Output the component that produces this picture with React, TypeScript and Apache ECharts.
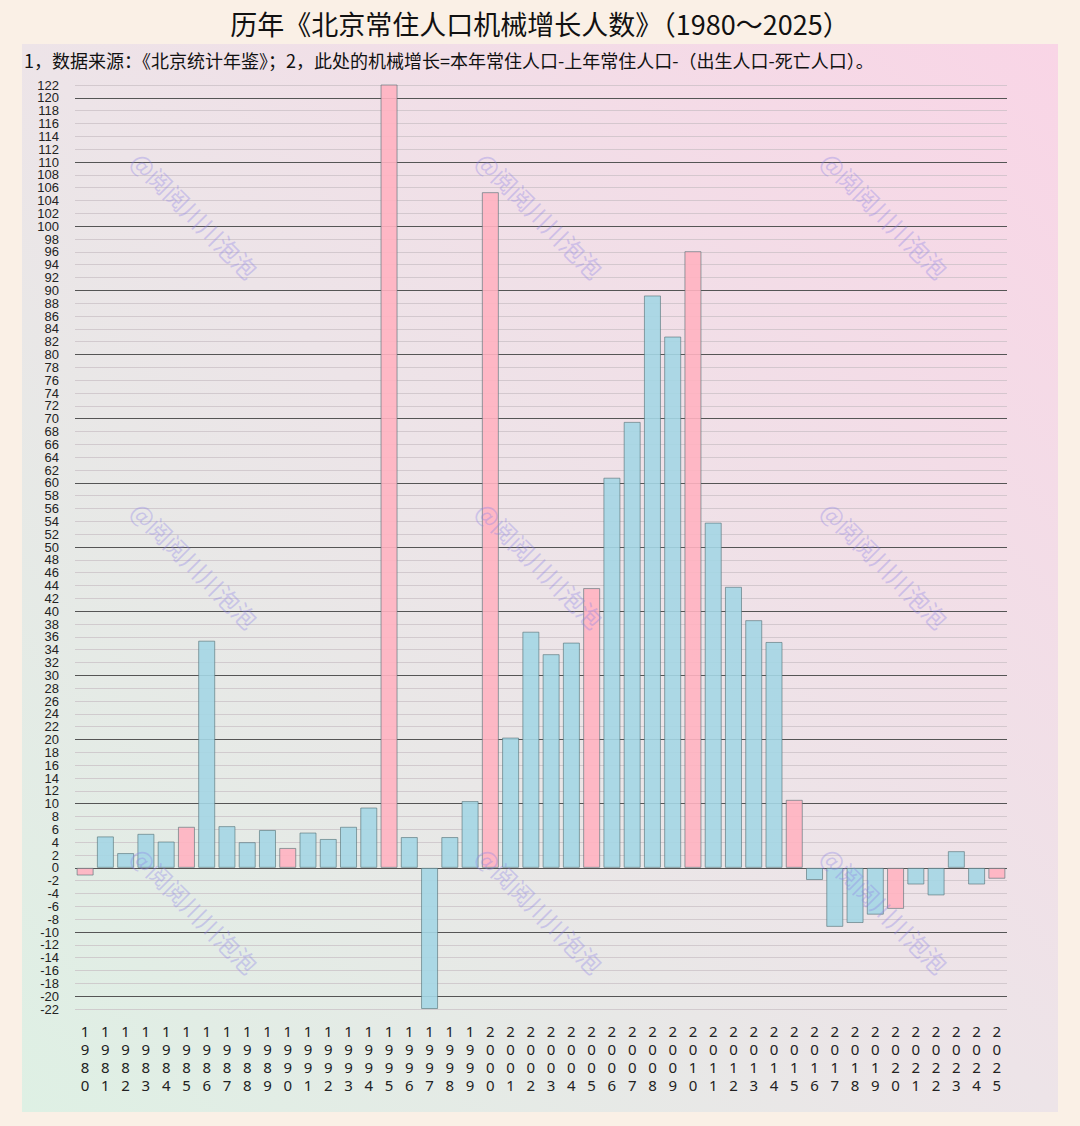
import React, { useEffect, useRef } from "react";
import * as echarts from "echarts";

const years: string[] = [];
for (let y = 1980; y <= 2025; y++) years.push(String(y));

const values: number[] = [
  -1.2, 4.9, 2.3, 5.3, 4.1, 6.4, 35.4, 6.5, 4.0, 5.9,
  3.1, 5.5, 4.5, 6.4, 9.4, 122.6, 4.8, -22.0, 4.8, 10.4,
  105.3, 20.3, 36.8, 33.3, 35.1, 43.6, 60.8, 69.5, 89.2, 82.8,
  96.1, 53.8, 43.8, 38.6, 35.2, 10.6, -1.9, -9.2, -8.6, -7.3,
  -6.4, -2.6, -4.3, 2.6, -2.6, -1.7,
];

const highlightYears: string[] = ["1980", "1985", "1990", "1995", "2000", "2005", "2010", "2015", "2020", "2025"];

const titleText = "历年《北京常住人口机械增长人数》（1980～2025）";
const noteText = "1，数据来源：《北京统计年鉴》；2，此处的机械增长=本年常住人口-上年常住人口-（出生人口-死亡人口）。";
const watermarkText = "@阅阅川川泡泡";

export default function App() {
  const ref = useRef<HTMLDivElement>(null);
  useEffect(() => {
    if (!ref.current) return;
    const chart = echarts.init(ref.current, null, { renderer: "svg" });
    const wmPos: [number, number][] = [];
    [195, 540, 885].forEach((x) => [215, 565, 910].forEach((y) => wmPos.push([x, y])));
    const cjk = "'Noto Sans CJK SC', 'Noto Sans', sans-serif";
    chart.setOption({
      animation: false,
      backgroundColor: "#faf0e6",
      graphic: [
        {
          type: "rect",
          z: -10,
          shape: { x: 22, y: 44, width: 1036, height: 1068 },
          style: {
            fill: new echarts.graphic.LinearGradient(1, 0, 0, 1, [
              { offset: 0, color: "#f9d5e6" },
              { offset: 0.5, color: "#ede4e8" },
              { offset: 1, color: "#def0e4" },
            ]),
          },
        },
        {
          type: "text",
          z: 10,
          left: "center",
          top: 10,
          style: { text: titleText, font: `27px ${cjk}`, fill: "#111" },
        },
        {
          type: "text",
          z: 10,
          left: 24,
          top: 51,
          style: { text: noteText, font: `18px ${cjk}`, fill: "#111" },
        },
        ...wmPos.map(([x, y]) => ({
          type: "text",
          z: 100,
          x,
          y,
          rotation: -Math.PI / 4,
          style: {
            text: watermarkText,
            font: `24px ${cjk}`,
            fill: "rgba(140,130,230,0.35)",
            align: "center",
            verticalAlign: "middle",
          },
        })),
      ],
      grid: { left: 75, right: 73, top: 85, bottom: 117, containLabel: false },
      xAxis: {
        type: "category",
        data: years,
        axisLine: { show: false },
        axisTick: { show: false },
        axisLabel: {
          interval: 0,
          margin: 13,
          fontSize: 15,
          lineHeight: 18,
          color: "#222",
          fontFamily: "'Noto Sans', sans-serif",
          formatter: (v: string) => v.split("").join("\n"),
        },
      },
      yAxis: {
        type: "value",
        min: -22,
        max: 122,
        interval: 2,
        axisLine: { show: false },
        axisTick: { show: false },
        axisLabel: {
          margin: 16,
          fontSize: 13,
          showMinLabel: true,
          showMaxLabel: true,
          color: "#222",
          fontFamily: "'Liberation Sans', sans-serif",
        },
        splitLine: {
          lineStyle: {
            width: 1,
            color: ["rgba(200,190,195,0.7)", "#555", "rgba(200,190,195,0.7)", "rgba(200,190,195,0.7)", "rgba(200,190,195,0.7)"],
          },
        },
      },
      series: [
        {
          type: "bar",
          barCategoryGap: "16%",
          data: values.map((v, i) => ({
            value: v,
            itemStyle: {
              color: highlightYears.includes(years[i]) ? "rgba(255,178,193,0.9)" : "rgba(164,214,228,0.9)",
            },
          })),
          itemStyle: { borderColor: "rgba(80,110,115,0.6)", borderWidth: 1 },
        },
      ],
    });
    return () => chart.dispose();
  }, []);
  return <div ref={ref} style={{ position: "absolute", left: 0, top: 0, width: 1080, height: 1126 }} />;
}
